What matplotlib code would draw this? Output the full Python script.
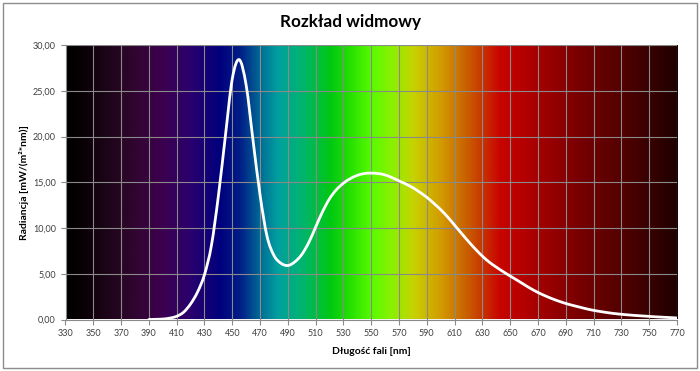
import numpy as np
import matplotlib
matplotlib.use("Agg")
import matplotlib.pyplot as plt
from matplotlib.colors import LinearSegmentedColormap
from matplotlib.patches import Rectangle, PathPatch
from matplotlib.path import Path

plt.rcParams['font.family'] = ['Lato', 'DejaVu Sans']

# widmo, co 5 nm
dlugosc = list(range(390, 771, 5))
radiancja = [0.0, 0.02, 0.05, 0.15, 0.35, 0.8, 1.7, 3.0, 4.9, 8.1, 13.5, 20.0, 26.3, 28.4,
             25.6, 19.5, 13.6, 9.1, 7.0, 6.15, 5.9, 6.3, 7.1, 8.4, 10.1, 11.8, 13.2, 14.2,
             14.9, 15.4, 15.75, 15.95, 16.0, 15.95, 15.8, 15.5, 15.15, 14.8, 14.4, 13.9,
             13.35, 12.7, 12.0, 11.2, 10.3, 9.4, 8.52, 7.68, 6.92, 6.26, 5.72, 5.22, 4.75, 4.29,
             3.82, 3.36, 2.95, 2.6, 2.28, 2.0, 1.75, 1.54, 1.35, 1.16, 1.0, 0.87, 0.75, 0.65,
             0.57, 0.5, 0.44, 0.39, 0.34, 0.29, 0.25, 0.21, 0.17]

# kolory tla (tęcza)
tlo_nm = [330, 340, 360, 380, 400, 420, 440, 455, 470, 482, 500, 520, 535, 550, 565,
          580, 600, 620, 642, 660, 680, 700, 720, 740, 760, 770]
tlo_rgb = [(0, 0, 0), (8, 0, 5), (30, 5, 25), (50, 5, 50), (60, 0, 80), (40, 0, 110),
           (0, 0, 125), (0, 30, 135), (0, 110, 150), (0, 160, 160), (0, 180, 110),
           (0, 200, 20), (40, 225, 0), (90, 250, 0), (140, 240, 0), (200, 210, 0),
           (210, 155, 0), (200, 90, 0), (200, 5, 0), (180, 0, 0), (150, 0, 0),
           (120, 0, 0), (95, 0, 0), (70, 0, 0), (45, 0, 0), (30, 0, 0)]

xt = list(range(330, 771, 20))
yt = [0, 5, 10, 15, 20, 25, 30]


def wygladzona(x, y):
    # linia wygladzona jak w Excelu (Catmull-Rom -> Bezier)
    p = np.column_stack([x, y]).astype(float)
    n = len(p)
    verts = [p[0]]
    codes = [Path.MOVETO]
    for i in range(n - 1):
        p0 = p[max(i - 1, 0)]
        p1 = p[i]
        p2 = p[i + 1]
        p3 = p[min(i + 2, n - 1)]
        verts += [p1 + (p2 - p0) / 6, p2 - (p3 - p1) / 6, p2]
        codes += [Path.CURVE4] * 3
    return Path(verts, codes)


fig = plt.figure(figsize=(7, 3.71), dpi=100)
ax = fig.add_axes([65.5 / 700, 1 - 319.5 / 371, (677 - 65.5) / 700, (319.5 - 45) / 371])

pos = [(n - 330) / 440 for n in tlo_nm]
cmap = LinearSegmentedColormap.from_list('widmo', list(zip(pos, [tuple(c / 255 for c in k) for k in tlo_rgb])))
grad = np.linspace(0, 1, 880).reshape(1, -1)
ax.imshow(grad, cmap=cmap, aspect='auto', extent=[330, 770, 0, 30], zorder=0, interpolation='bilinear')

ax.add_patch(PathPatch(wygladzona(dlugosc, radiancja), fill=False, edgecolor='white',
                       lw=2.0, joinstyle='round', capstyle='round', zorder=3))

ax.set_xlim(330, 770)
ax.set_ylim(0, 30)
ax.set_xticks(xt)
ax.set_yticks(yt)
ax.set_yticklabels([('%.2f' % v).replace('.', ',') for v in yt])
ax.grid(True, color='#8a8a8a', lw=0.8)
ax.tick_params(colors='#8a8a8a', labelcolor='#404040', labelsize=6.5, length=3.5, width=0.8)
for s in ['top', 'right']:
    ax.spines[s].set_visible(False)
for s in ['left', 'bottom']:
    ax.spines[s].set_color('#8a8a8a')
    ax.spines[s].set_linewidth(0.8)

ax.set_xlabel('Długość fali [nm]', fontsize=7.5, fontweight='bold', labelpad=6)
ax.set_ylabel('Radiancja [mW/(m²*nm)]', fontsize=7.5, fontweight='bold', labelpad=3)
fig.text(0.5, 1 - 21.7 / 371, 'Rozkład widmowy', ha='center', va='center',
         fontsize=12.3, fontweight='bold')

fig.patches.append(Rectangle((3 / 700, 3 / 371), 694 / 700, 365 / 371, transform=fig.transFigure,
                             fill=False, edgecolor='#8c8c8c', lw=1))

fig.savefig('out.png', dpi=100)
